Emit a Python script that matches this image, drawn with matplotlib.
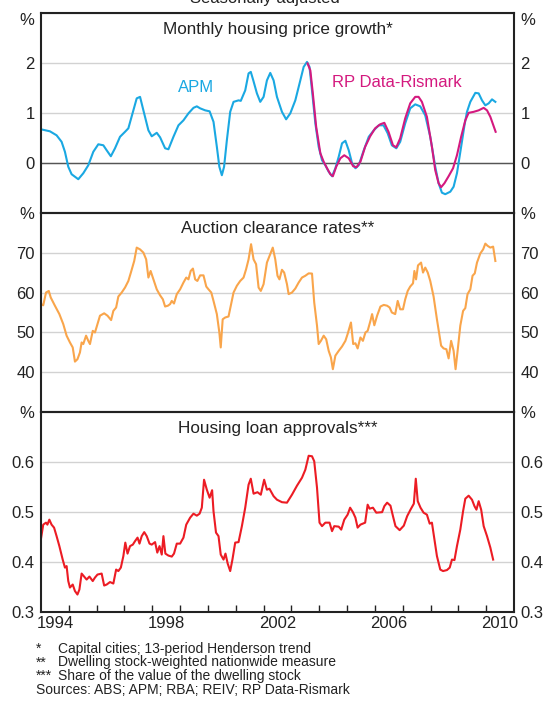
import numpy as np
import matplotlib
matplotlib.use("Agg")
import matplotlib.pyplot as plt

plt.rcParams['font.family'] = ['Liberation Sans', 'DejaVu Sans']

# Monthly housing price growth (%)
apm_year = [1994.00, 1994.32, 1994.56, 1994.74, 1994.86, 1994.98, 1995.10, 1995.34, 1995.52, 1995.70,
            1995.88, 1996.06, 1996.24, 1996.36, 1996.51, 1996.66, 1996.84, 1997.02, 1997.14, 1997.32,
            1997.44, 1997.56, 1997.68, 1997.86, 1997.98, 1998.16, 1998.28, 1998.46, 1998.58, 1998.76,
            1998.94, 1999.12, 1999.30, 1999.48, 1999.60, 1999.72, 1999.90, 2000.06, 2000.20, 2000.32,
            2000.41, 2000.50, 2000.58, 2000.68, 2000.80, 2000.92, 2001.10, 2001.18, 2001.34, 2001.46,
            2001.54, 2001.63, 2001.76, 2001.88, 2002.00, 2002.12,
            2002.24, 2002.36, 2002.48, 2002.66, 2002.81, 2002.96, 2003.14, 2003.32, 2003.44, 2003.56,
            2003.65, 2003.74, 2003.86, 2003.98, 2004.10, 2004.22, 2004.34, 2004.46, 2004.58, 2004.70,
            2004.82, 2004.94, 2005.06, 2005.18, 2005.30, 2005.42, 2005.60, 2005.78, 2005.96, 2006.14,
            2006.31, 2006.46, 2006.61, 2006.77, 2006.91, 2007.09, 2007.27, 2007.45, 2007.63, 2007.81,
            2007.99, 2008.17, 2008.29, 2008.41, 2008.53, 2008.71, 2008.83, 2008.95, 2009.10, 2009.22,
            2009.31, 2009.43, 2009.61, 2009.73, 2009.85, 2009.97, 2010.09, 2010.21, 2010.33]
apm = [0.67, 0.63, 0.55, 0.42, 0.22, -0.08, -0.23, -0.33, -0.21, -0.05,
       0.22, 0.37, 0.35, 0.25, 0.13, 0.29, 0.52, 0.62, 0.69, 1.05,
       1.29, 1.32, 1.05, 0.65, 0.53, 0.60, 0.51, 0.29, 0.27, 0.52,
       0.75, 0.85, 0.99, 1.10, 1.13, 1.09, 1.05, 1.03, 0.82, 0.32,
       -0.08, -0.25, -0.08, 0.45, 1.02, 1.22, 1.25, 1.24, 1.45, 1.79,
       1.82, 1.65, 1.39, 1.22, 1.32, 1.65,
       1.80, 1.65, 1.32, 1.02, 0.87, 0.99, 1.25, 1.65, 1.92, 2.02,
       1.92, 1.45, 0.79, 0.32, 0.05, -0.05, -0.18, -0.27, -0.11, 0.12,
       0.39, 0.44, 0.25, -0.01, -0.11, -0.05, 0.25, 0.52, 0.65, 0.75,
       0.75, 0.59, 0.35, 0.29, 0.42, 0.79, 1.09, 1.17, 1.13, 0.95,
       0.52, -0.08, -0.41, -0.60, -0.63, -0.58, -0.48, -0.21, 0.32, 0.75,
       1.02, 1.22, 1.40, 1.39, 1.25, 1.15, 1.19, 1.27, 1.22]

rp_year = [2003.58, 2003.68, 2003.77, 2003.89, 2004.04, 2004.16, 2004.28, 2004.40, 2004.49, 2004.61,
           2004.76, 2004.90, 2005.06, 2005.22, 2005.34, 2005.48, 2005.65, 2005.83, 2006.01, 2006.19,
           2006.34, 2006.49, 2006.65, 2006.77, 2006.91, 2007.09, 2007.27, 2007.45, 2007.57, 2007.69,
           2007.87, 2008.05, 2008.17, 2008.29, 2008.38, 2008.50, 2008.65, 2008.81, 2008.95, 2009.10,
           2009.25, 2009.37, 2009.55, 2009.73, 2009.91, 2010.03, 2010.15, 2010.27, 2010.34]
rp = [1.99, 1.85, 1.39, 0.72, 0.19, 0.02, -0.11, -0.23, -0.27, -0.08,
      0.09, 0.15, 0.09, -0.07, -0.09, 0.02, 0.32, 0.53, 0.69, 0.77,
      0.80, 0.62, 0.35, 0.31, 0.49, 0.89, 1.19, 1.32, 1.32, 1.22,
      0.92, 0.32, -0.15, -0.41, -0.49, -0.41, -0.27, -0.11, 0.15, 0.52,
      0.85, 1.00, 1.02, 1.05, 1.10, 1.05, 0.92, 0.73, 0.62]

# Auction clearance rates (%)
auc_year = [1994.00, 1994.08, 1994.18, 1994.28, 1994.35, 1994.50, 1994.66, 1994.80, 1994.92, 1995.04,
            1995.14, 1995.22, 1995.31, 1995.40, 1995.46, 1995.52, 1995.62, 1995.70, 1995.76, 1995.86,
            1995.94, 1996.03, 1996.12, 1996.27, 1996.39, 1996.52, 1996.60, 1996.70, 1996.78, 1996.90,
            1997.02, 1997.14, 1997.23, 1997.35, 1997.44, 1997.56, 1997.68, 1997.78, 1997.86, 1997.94,
            1998.04, 1998.16, 1998.28, 1998.38, 1998.46, 1998.56, 1998.64, 1998.70, 1998.78, 1998.88,
            1999.00, 1999.12, 1999.22, 1999.30, 1999.38, 1999.46, 1999.54, 1999.62, 1999.72, 1999.84,
            1999.94, 2000.02, 2000.12, 2000.20, 2000.32, 2000.41, 2000.46, 2000.53, 2000.62, 2000.74,
            2000.82, 2000.92, 2001.04, 2001.16, 2001.28, 2001.37, 2001.46, 2001.55, 2001.64, 2001.73,
            2001.82, 2001.90, 2002.00, 2002.12, 2002.33, 2002.42, 2002.50, 2002.57, 2002.66, 2002.74,
            2002.84, 2002.90, 2003.02, 2003.14, 2003.26, 2003.38, 2003.50, 2003.62, 2003.74, 2003.82,
            2003.92, 2003.98, 2004.06, 2004.16, 2004.25, 2004.34, 2004.42, 2004.49, 2004.58, 2004.70,
            2004.82, 2004.94, 2005.02, 2005.14, 2005.22, 2005.30, 2005.38, 2005.48, 2005.57, 2005.66,
            2005.74, 2005.84, 2005.90, 2005.98, 2006.08, 2006.20, 2006.32, 2006.44, 2006.53, 2006.61,
            2006.73, 2006.82, 2006.91, 2007.01, 2007.09, 2007.18, 2007.27, 2007.37, 2007.42, 2007.48,
            2007.55, 2007.66, 2007.73, 2007.81, 2007.90, 2007.99, 2008.11, 2008.23, 2008.38, 2008.47,
            2008.57, 2008.65, 2008.74, 2008.83, 2008.90, 2008.98, 2009.07, 2009.17, 2009.25, 2009.33,
            2009.43, 2009.51, 2009.59, 2009.67, 2009.79, 2009.89, 2009.97, 2010.05, 2010.15, 2010.25,
            2010.33]
auction = [57.1, 56.8, 60.0, 60.4, 58.75, 56.7, 54.6, 52.1, 49.2, 47.5,
           46.25, 42.7, 43.3, 45.0, 47.5, 47.1, 49.2, 47.9, 47.1, 50.4,
           50.0, 52.1, 54.2, 54.8, 54.2, 53.1, 55.4, 56.25, 59.0, 60.0,
           61.25, 62.9, 65.0, 67.9, 71.25, 70.8, 70.0, 68.3, 63.75, 65.4,
           63.3, 60.8, 59.3, 58.3, 56.5, 56.7, 57.1, 57.9, 57.25, 59.6,
           60.8, 62.5, 63.75, 63.3, 65.4, 66.0, 63.3, 62.9, 64.3, 64.3,
           61.5, 60.8, 60.0, 57.9, 54.6, 50.0, 46.25, 53.3, 53.75, 54.0,
           56.7, 60.0, 61.7, 62.9, 63.75, 65.8, 68.3, 72.1, 68.3, 67.1,
           61.25, 60.4, 62.1, 67.5, 71.25, 68.3, 64.2, 63.3, 65.7, 65.0,
           62.1, 59.6, 60.0, 61.0, 62.5, 63.75, 64.2, 64.8, 64.75, 57.5,
           51.7, 47.1, 47.9, 49.2, 48.3, 45.4, 43.75, 40.8, 44.2, 45.4,
           46.5, 47.9, 49.6, 52.5, 47.1, 47.3, 46.0, 48.75, 47.9, 50.0,
           50.4, 52.9, 54.6, 51.8, 54.2, 56.5, 56.9, 56.7, 56.25, 55.0,
           54.6, 57.9, 55.8, 55.8, 58.3, 60.4, 61.5, 62.3, 65.4, 63.3,
           66.8, 67.5, 65.0, 66.25, 65.0, 62.9, 59.0, 53.3, 46.7, 46.0,
           45.8, 43.5, 47.9, 45.4, 40.8, 45.8, 51.7, 55.4, 56.1, 59.6,
           60.8, 64.2, 64.8, 67.5, 69.8, 70.8, 72.25, 71.7, 71.25, 71.5,
           67.9]

# Housing loan approvals, share of dwelling stock value (%)
loan_year = [1994.00, 1994.08, 1994.18, 1994.23, 1994.30, 1994.38, 1994.47, 1994.56, 1994.66, 1994.78,
             1994.86, 1994.92, 1994.98, 1995.04, 1995.14, 1995.22, 1995.31, 1995.38, 1995.46, 1995.55,
             1995.64, 1995.74, 1995.86, 1995.94, 1996.03, 1996.18, 1996.27, 1996.36, 1996.48, 1996.60,
             1996.70, 1996.78, 1996.87, 1996.96, 1997.03, 1997.11, 1997.20, 1997.30, 1997.38, 1997.47,
             1997.54, 1997.62, 1997.71, 1997.80, 1997.90, 1997.98, 1998.10, 1998.18, 1998.26, 1998.34,
             1998.40, 1998.47, 1998.58, 1998.70, 1998.78, 1998.88, 1999.00, 1999.12, 1999.22, 1999.36,
             1999.48, 1999.60, 1999.70, 1999.78, 1999.86, 1999.96, 2000.06, 2000.15, 2000.20, 2000.29,
             2000.38, 2000.46, 2000.56, 2000.63, 2000.71, 2000.80, 2000.88, 2000.98, 2001.10, 2001.22,
             2001.34, 2001.46, 2001.54, 2001.64, 2001.78, 2001.90, 2002.02, 2002.12, 2002.21, 2002.36,
             2002.48, 2002.66, 2002.84, 2003.02, 2003.20, 2003.38, 2003.50, 2003.62, 2003.74, 2003.82,
             2003.92, 2004.01, 2004.10, 2004.22, 2004.37, 2004.46, 2004.54, 2004.70, 2004.79, 2004.90,
             2005.02, 2005.11, 2005.21, 2005.30, 2005.38, 2005.48, 2005.65, 2005.74, 2005.81, 2005.93,
             2006.05, 2006.26, 2006.34, 2006.44, 2006.56, 2006.65, 2006.74, 2006.89, 2007.04, 2007.16,
             2007.28, 2007.40, 2007.47, 2007.54, 2007.64, 2007.75, 2007.87, 2007.97, 2008.05, 2008.14,
             2008.23, 2008.35, 2008.45, 2008.59, 2008.69, 2008.77, 2008.86, 2008.95, 2009.07, 2009.17,
             2009.25, 2009.37, 2009.49, 2009.58, 2009.65, 2009.73, 2009.82, 2009.91, 2010.03, 2010.15,
             2010.25]
loans = [0.447, 0.475, 0.479, 0.475, 0.485, 0.475, 0.469, 0.452, 0.432, 0.405,
         0.389, 0.392, 0.362, 0.349, 0.355, 0.342, 0.335, 0.345, 0.377, 0.371,
         0.365, 0.371, 0.362, 0.369, 0.375, 0.377, 0.353, 0.355, 0.360, 0.357,
         0.385, 0.382, 0.389, 0.412, 0.439, 0.417, 0.432, 0.435, 0.442, 0.449,
         0.437, 0.452, 0.460, 0.452, 0.437, 0.435, 0.440, 0.419, 0.432, 0.415,
         0.452, 0.417, 0.413, 0.411, 0.417, 0.437, 0.437, 0.449, 0.475, 0.489,
         0.497, 0.493, 0.497, 0.509, 0.565, 0.545, 0.529, 0.544, 0.502, 0.459,
         0.452, 0.415, 0.405, 0.417, 0.397, 0.382, 0.405, 0.439, 0.440, 0.472,
         0.509, 0.555, 0.567, 0.537, 0.540, 0.535, 0.565, 0.545, 0.547, 0.532,
         0.525, 0.520, 0.519, 0.535, 0.553, 0.569, 0.585, 0.613, 0.612, 0.602,
         0.549, 0.479, 0.472, 0.479, 0.479, 0.462, 0.472, 0.471, 0.465, 0.485,
         0.495, 0.509, 0.500, 0.489, 0.469, 0.475, 0.479, 0.515, 0.507, 0.509,
         0.499, 0.500, 0.512, 0.519, 0.513, 0.492, 0.472, 0.464, 0.473, 0.492,
         0.505, 0.517, 0.567, 0.522, 0.509, 0.499, 0.495, 0.477, 0.479, 0.445,
         0.412, 0.385, 0.382, 0.384, 0.389, 0.405, 0.404, 0.432, 0.465, 0.502,
         0.527, 0.533, 0.525, 0.512, 0.505, 0.522, 0.505, 0.472, 0.452, 0.429,
         0.405]

year_labels = ['1994', '1998', '2002', '2006', '2010']
footnotes = ['*', '**', '***']
footnote_text = ['Capital cities; 13-period Henderson trend',
                 'Dwelling stock-weighted nationwide measure',
                 'Share of the value of the dwelling stock']

txt = '#222222'
apm_col = '#1aa8e2'
rp_col = '#d4197f'
auc_col = '#f9a54b'
loan_col = '#ec1c24'

fig = plt.figure(figsize=(5.45, 7.03), dpi=100)
fig.subplots_adjust(left=41/545, right=514/545, top=1-13/703, bottom=1-612/703, hspace=0)
axes = fig.subplots(3, 1, sharex=True)

panels = [
    ('Monthly housing price growth*', (-1, 3), [0, 1, 2, 3], ['0', '1', '2', '%']),
    ('Auction clearance rates**', (30, 80), [40, 50, 60, 70, 80], ['40', '50', '60', '70', '%']),
    ('Housing loan approvals***', (0.3, 0.7), [0.3, 0.4, 0.5, 0.6, 0.7], ['0.3', '0.4', '0.5', '0.6', '%']),
]

for ax, (title, ylim, ticks, labels) in zip(axes, panels):
    ax.set_xlim(1994, 2011)
    ax.set_ylim(*ylim)
    ax.set_yticks(ticks)
    ax.set_yticklabels(labels)
    ax.grid(axis='y', color='#d2d2d2', lw=1.0)
    ax.set_axisbelow(True)
    ax.tick_params(axis='y', left=False, right=False, length=0, labelleft=True, labelright=True,
                   labelsize=12, colors=txt, pad=4.5)
    ax.tick_params(axis='x', which='both', bottom=False, top=False, labelbottom=False)
    for s in ax.spines.values():
        s.set_linewidth(1.5)
        s.set_color('#222222')
    ax.text(0.5, 1 - 20.5/199, title, transform=ax.transAxes, ha='center', va='baseline',
            fontsize=12.3, color=txt)

# first panel: % sits just under the top edge
t = axes[0].yaxis.get_major_ticks()[-1]
t.label1.set_verticalalignment('top')
t.label2.set_verticalalignment('top')

ax1, ax2, ax3 = axes
ax1.axhline(0, color='#555555', lw=1.0, zorder=1)
ax1.plot(apm_year, apm, color=apm_col, lw=1.5)
ax1.plot(rp_year, rp, color=rp_col, lw=1.5)
ax1.text(1999.58, 1.51, 'APM', color=apm_col, fontsize=12, ha='center', va='center')
ax1.text(2006.8, 1.6, 'RP Data-Rismark', color=rp_col, fontsize=12, ha='center', va='center')

ax2.plot(auc_year, auction, color=auc_col, lw=1.5)
ax3.plot(loan_year, loans, color=loan_col, lw=1.5)

# year ticks at year boundaries, labels in the middle of the year
ax3.set_xticks(np.arange(1995, 2011))
ax3.set_xticks([int(y) + 0.5 for y in year_labels], minor=True)
ax3.set_xticklabels(year_labels, minor=True)
ax3.tick_params(axis='x', which='major', bottom=True, direction='in', length=5, width=1.0,
                color='#222222', labelbottom=False)
ax3.tick_params(axis='x', which='minor', bottom=False, length=0, labelbottom=True, labelsize=12,
                colors=txt, pad=3)

fig.text(265/545, 1 - 3/703, 'Seasonally adjusted', ha='center', va='baseline', fontsize=12, color=txt)

for i, (mark, line) in enumerate(zip(footnotes, footnote_text)):
    y = 1 - (652.5 + 13.8*i)/703
    fig.text(36/545, y, mark, ha='left', va='baseline', fontsize=10, color=txt)
    fig.text(58/545, y, line, ha='left', va='baseline', fontsize=10, color=txt)
fig.text(36/545, 1 - (652.5 + 13.8*3)/703, 'Sources: ABS; APM; RBA; REIV; RP Data-Rismark',
         ha='left', va='baseline', fontsize=10, color=txt)

fig.savefig('out.png', dpi=100)
